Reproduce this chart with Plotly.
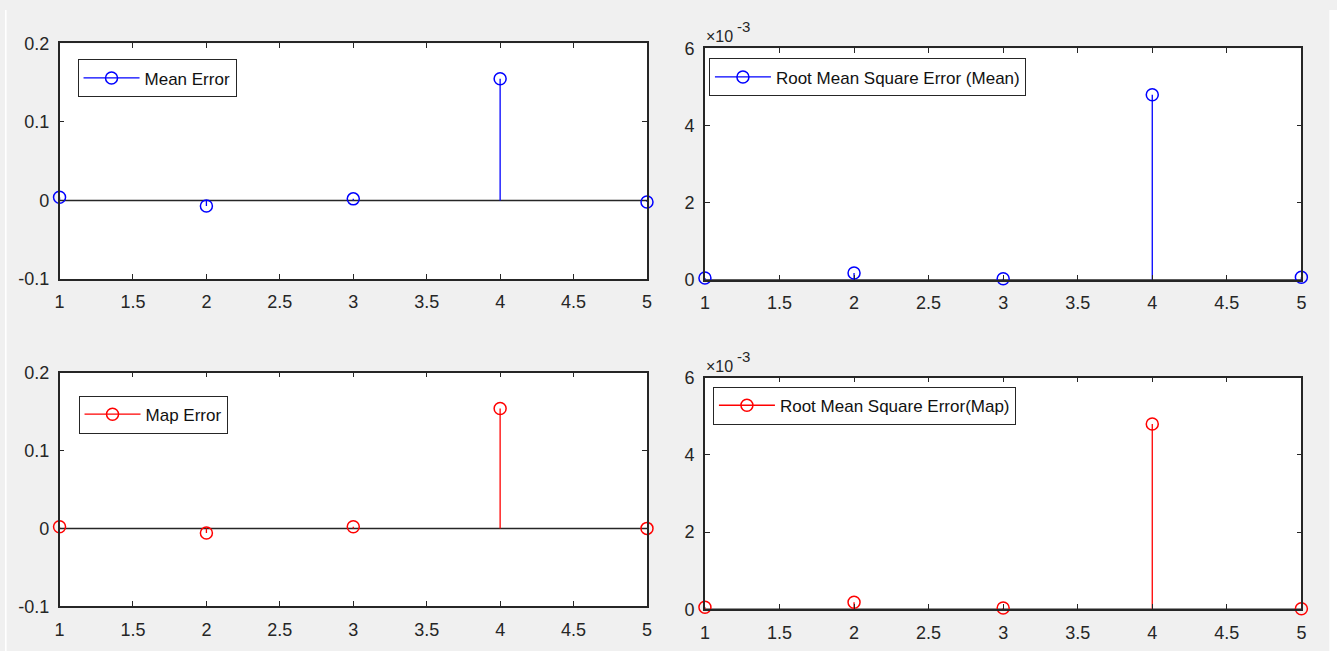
import plotly.graph_objects as go

# Figure canvas; the page shows it slightly inset and scaled, so target
# pixel positions are mapped into figure pixels through (SX, OX) / (SY, OY).
FW, FH = 1345, 665
SX, OX = 0.9935, 4.4
SY, OY = 0.972, 8.5

# Sample index shared by all four panels
x_vals = [1, 2, 3, 4, 5]

# Per-sample errors
mean_error = [0.004, -0.007, 0.002, 0.155, -0.002]
map_error = [0.002, -0.006, 0.002, 0.154, 0.0]

# Root mean square errors (absolute values, shown in units of 1e-3)
rmse_mean = [0.05e-3, 0.18e-3, 0.03e-3, 4.8e-3, 0.07e-3]
rmse_map = [0.05e-3, 0.18e-3, 0.03e-3, 4.8e-3, 0.01e-3]

x_ticks = [1, 1.5, 2, 2.5, 3, 3.5, 4, 4.5, 5]
x_tick_text = ["1", "1.5", "2", "2.5", "3", "3.5", "4", "4.5", "5"]
err_ticks = [-0.1, 0, 0.1, 0.2]
err_tick_text = ["-0.1", "0", "0.1", "0.2"]
rmse_ticks = [0, 0.002, 0.004, 0.006]
rmse_tick_text = ["0", "2", "4", "6"]

FONT = "Liberation Sans, Arial, sans-serif"
AX_COLOR = "#262626"
BLUE = "#0000ff"
RED = "#ff0000"


def fx(p):
    return (p - OX) / SX


def fy(p):
    return (p - OY) / SY


def px_x(p):
    # page pixel -> paper fraction
    return fx(p) / FW


def px_y(p):
    return 1 - fy(p) / FH


# Panel boxes in page pixels: (left, right, top, bottom)
panels = [
    (59, 647, 42, 278),
    (705, 1302, 47, 279),
    (59, 647, 372, 606),
    (705, 1302, 377, 609),
]

series = [
    ("Mean Error", mean_error, BLUE),
    ("Root Mean Square Error (Mean)", rmse_mean, BLUE),
    ("Map Error", map_error, RED),
    ("Root Mean Square Error(Map)", rmse_map, RED),
]

# Legend boxes: (left, top) in page pixels
legend_pos = [(77, 58), (709, 57), (78, 395), (713, 386)]

fig = go.Figure()
layout = dict(
    width=FW,
    height=FH,
    margin=dict(l=0, r=0, t=0, b=0),
    paper_bgcolor="#f0f0f0",
    plot_bgcolor="white",
    font=dict(family=FONT, size=17, color=AX_COLOR),
    shapes=[],
    annotations=[],
)

for i, ((name, vals, color), (l, r, t, b), (lx, ly)) in enumerate(
    zip(series, panels, legend_pos)
):
    n = "" if i == 0 else str(i + 1)
    xa, ya = "x" + n, "y" + n
    leg = "legend" + n

    # stems from the zero baseline up/down to each value
    sx, sy = [], []
    for xv, yv in zip(x_vals, vals):
        sx += [xv, xv, None]
        sy += [0, yv, None]
    fig.add_trace(go.Scatter(
        x=sx, y=sy, mode="lines", xaxis=xa, yaxis=ya,
        line=dict(color=color, width=1.3), showlegend=False,
        hoverinfo="skip", cliponaxis=False,
    ))

    # open-circle heads (gaps keep the points unconnected)
    mx, my = [], []
    for xv, yv in zip(x_vals, vals):
        mx += [xv, None]
        my += [yv, None]
    fig.add_trace(go.Scatter(
        x=mx, y=my, mode="lines+markers", name=name, xaxis=xa, yaxis=ya,
        line=dict(color=color, width=1.3), connectgaps=False,
        marker=dict(symbol="circle-open", size=12, color=color,
                    line=dict(color=color, width=1.5)),
        legend=leg, cliponaxis=False,
    ))

    is_rmse = i in (1, 3)
    common = dict(
        ticks="inside", ticklen=5, tickcolor=AX_COLOR, tickwidth=1,
        showline=True, linecolor=AX_COLOR, linewidth=1.5, mirror="ticks",
        showgrid=False, zeroline=False,
        tickfont=dict(family=FONT, size=18, color=AX_COLOR),
    )
    layout["xaxis" + n] = dict(
        domain=[px_x(l), px_x(r)], anchor=ya, range=[1, 5],
        tickvals=x_ticks, ticktext=x_tick_text, ticklabelstandoff=6,
        **common,
    )
    layout["yaxis" + n] = dict(
        domain=[px_y(b), px_y(t)], anchor=xa,
        range=[0, 0.006] if is_rmse else [-0.1, 0.2],
        tickvals=rmse_ticks if is_rmse else err_ticks,
        ticktext=rmse_tick_text if is_rmse else err_tick_text,
        ticklabelstandoff=5,
        **common,
    )
    layout[leg] = dict(
        x=px_x(lx), y=px_y(ly), xanchor="left", yanchor="top",
        xref="paper", yref="paper",
        bgcolor="white", bordercolor=AX_COLOR, borderwidth=1,
        font=dict(family=FONT, size=17, color="#111111"),
        itemwidth=56,
    )

    # stem baseline at zero
    layout["shapes"].append(dict(
        type="line", xref=xa + " domain", yref=ya, x0=0, x1=1, y0=0, y1=0,
        line=dict(color=AX_COLOR, width=1.5), layer="below",
    ))

    if is_rmse:
        # axis exponent label: "×10" with a raised "-3"
        layout["annotations"].append(dict(
            xref="paper", yref="paper", x=px_x(l - 1), y=px_y(t - 11.5),
            xanchor="left", yanchor="middle", showarrow=False,
            text="×10", font=dict(family=FONT, size=16, color=AX_COLOR),
        ))
        layout["annotations"].append(dict(
            xref="paper", yref="paper", x=px_x(l + 30), y=px_y(t - 21.5),
            xanchor="left", yanchor="middle", showarrow=False,
            text="-3", font=dict(family=FONT, size=15, color=AX_COLOR),
        ))

# white page edges around the grey figure area
for x0, x1 in [(0, fx(6)), (fx(1330), FW)]:
    layout["shapes"].append(dict(
        type="rect", xref="paper", yref="paper",
        x0=max(x0, 0) / FW, x1=x1 / FW, y0=0, y1=1,
        fillcolor="white", line=dict(width=0), layer="below",
    ))

fig.update_layout(**layout)
fig.write_html("out.html")
